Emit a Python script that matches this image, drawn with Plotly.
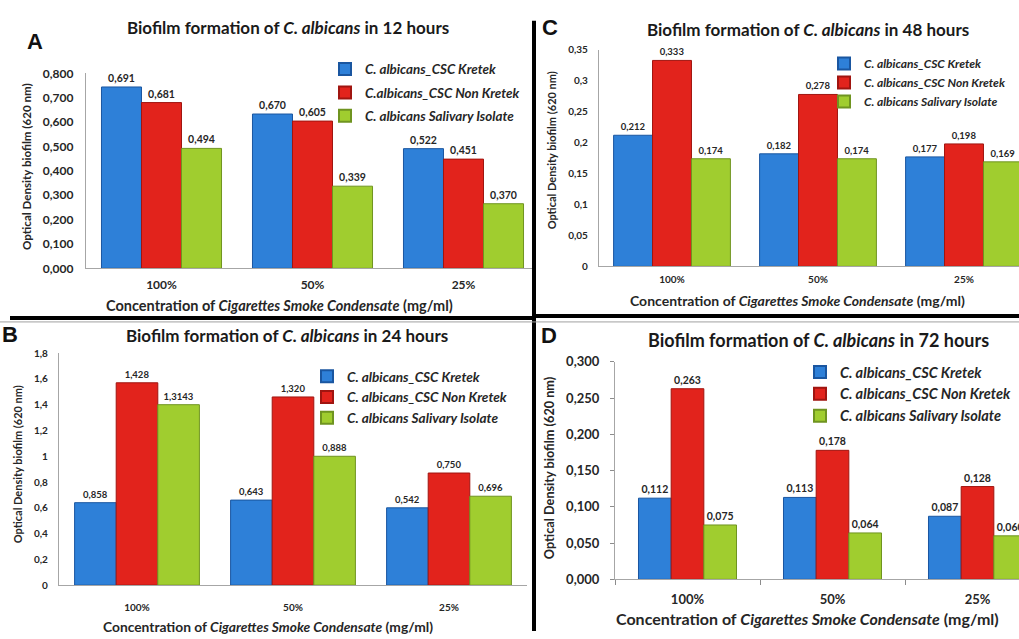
import plotly.graph_objects as go

W, H = 1019, 639

categories = ["100%", "50%", "25%"]

# ---- Panel A (12 hours): bar heights, label texts as printed
A_kretek = [0.744, 0.633, 0.491]
A_nonkretek = [0.680, 0.604, 0.448]
A_salivary = [0.492, 0.337, 0.265]
A_lbl_kretek = ["0,691", "0,670", "0,522"]
A_lbl_nonkretek = ["0,681", "0,605", "0,451"]
A_lbl_salivary = ["0,494", "0,339", "0,370"]

# ---- Panel B (24 hours)
B_kretek = [0.64, 0.66, 0.60]
B_nonkretek = [1.57, 1.46, 0.87]
B_salivary = [1.40, 1.00, 0.69]
B_lbl_kretek = ["0,858", "0,643", "0,542"]
B_lbl_nonkretek = ["1,428", "1,320", "0,750"]
B_lbl_salivary = ["1,3143", "0,888", "0,696"]

# ---- Panel C (48 hours)
C_kretek = [0.212, 0.182, 0.177]
C_nonkretek = [0.333, 0.278, 0.198]
C_salivary = [0.174, 0.174, 0.169]
C_lbl_kretek = ["0,212", "0,182", "0,177"]
C_lbl_nonkretek = ["0,333", "0,278", "0,198"]
C_lbl_salivary = ["0,174", "0,174", "0,169"]

# ---- Panel D (72 hours)
D_kretek = [0.112, 0.113, 0.087]
D_nonkretek = [0.263, 0.178, 0.128]
D_salivary = [0.075, 0.064, 0.060]
D_lbl_kretek = ["0,112", "0,113", "0,087"]
D_lbl_nonkretek = ["0,263", "0,178", "0,128"]
D_lbl_salivary = ["0,075", "0,064", "0,060"]

names_A = ["C. albicans_CSC Kretek", "C.albicans_CSC Non Kretek", "C. albicans Salivary Isolate"]
names = ["C. albicans_CSC Kretek", "C. albicans_CSC Non Kretek", "C. albicans Salivary Isolate"]

colors = ["#2E80D8", "#E2231C", "#A0CD2F"]
edges = ["#1A56A0", "#A01510", "#6F9420"]

FONT = "Lato, 'Open Sans', sans-serif"
TXT = "#262626"


def PX(p):
    return p / W


def PY(p):
    return 1 - p / H


panels = [
    dict(key="", letter="A", hours="12",
         vals=[A_kretek, A_nonkretek, A_salivary],
         lbls=[A_lbl_kretek, A_lbl_nonkretek, A_lbl_salivary], names=names_A,
         x0=86, x1=534, pxcat=151, y0=267, y1=67, ymax=0.8, dtick=0.1, fmt=".3f",
         gw=0.795, lblsize=10.5, tick=12, ystand=9, xstand=5,
         title=(288, 20, 17), let=(35, 34), ytitle=(27, 163, 11.6), xtitle=(279, 305, 14.5),
         leg=(365, 47, 13.4, 3)),
    dict(key="2", letter="C", hours="48",
         vals=[C_kretek, C_nonkretek, C_salivary],
         lbls=[C_lbl_kretek, C_lbl_nonkretek, C_lbl_salivary], names=names,
         x0=599, x1=1019, pxcat=146, y0=265, y1=43, ymax=0.35, dtick=0.05, fmt="",
         gw=0.80, lblsize=9.5, tick=10, ystand=8, xstand=4,
         title=(808, 22, 17), let=(550, 20), ytitle=(551, 146, 11), xtitle=(797, 300, 14),
         leg=(864, 42, 12, 0)),
    dict(key="3", letter="B", hours="24",
         vals=[B_kretek, B_nonkretek, B_salivary],
         lbls=[B_lbl_kretek, B_lbl_nonkretek, B_lbl_salivary], names=names,
         x0=59, x1=527, pxcat=156, y0=592, y1=354, ymax=1.8, dtick=0.2, fmt="",
         gw=0.80, lblsize=9.5, tick=10, ystand=8, xstand=13,
         title=(287, 336, 17), let=(10, 335), ytitle=(17, 468, 11), xtitle=(268, 634, 13.8),
         leg=(347, 362, 13.6, 0)),
    dict(key="4", letter="D", hours="72",
         vals=[D_kretek, D_nonkretek, D_salivary],
         lbls=[D_lbl_kretek, D_lbl_nonkretek, D_lbl_salivary], names=names,
         x0=615, x1=1019, pxcat=145, y0=586, y1=363, ymax=0.3, dtick=0.05, fmt=".3f",
         gw=0.676, lblsize=10.5, tick=13, ystand=8, xstand=8,
         title=(818, 341, 18), let=(549, 336), ytitle=(549, 472, 12.7), xtitle=(807, 626, 16),
         leg=(840, 357, 14.5, 0)),
]

fig = go.Figure()
annotations = []
layout = dict()

for p in panels:
    k = p["key"]
    legname = "legend" + k
    bw = p["gw"] / 3
    for i in range(3):
        fig.add_trace(go.Bar(
            x=categories, y=p["vals"][i], name=p["names"][i],
            text=p["lbls"][i], textposition="outside", constraintext="none",
            cliponaxis=False,
            textfont=dict(family=FONT, size=p["lblsize"], color=TXT, weight="bold"),
            marker=dict(color=colors[i], line=dict(color=edges[i], width=1)),
            width=bw, offset=-p["gw"] / 2 + i * bw,
            xaxis="x" + k, yaxis="y" + k, legend=legname,
            legendgroup=p["letter"] + str(i),
        ))
    rng_hi = -0.5 + (p["x1"] - p["x0"]) / p["pxcat"]
    is_d = p["letter"] == "D"
    layout["xaxis" + k] = dict(
        domain=[PX(p["x0"]), PX(p["x1"])], anchor="y" + k, range=[-0.5, rng_hi],
        type="category", showline=True, linecolor="#A6A6A6", linewidth=1.2,
        showgrid=False, zeroline=False, fixedrange=True,
        ticks="outside" if is_d else "", tickson="boundaries" if is_d else "labels",
        ticklen=5, tickcolor="#8C8C8C",
        tickfont=dict(family=FONT, size=p["tick"], color=TXT, weight="bold"),
        ticklabelstandoff=p["xstand"],
    )
    yax = dict(
        domain=[PY(p["y0"]), PY(p["y1"])], anchor="x" + k, range=[0, p["ymax"]],
        dtick=p["dtick"], tick0=0, showline=True, linecolor="#A6A6A6", linewidth=1.2,
        showgrid=False, zeroline=False, fixedrange=True,
        ticks="outside" if is_d else "", ticklen=4, tickcolor="#8C8C8C",
        tickfont=dict(family=FONT, size=p["tick"], color=TXT, weight="bold"),
        ticklabelstandoff=p["ystand"],
    )
    if p["fmt"]:
        yax["tickformat"] = p["fmt"]
    layout["yaxis" + k] = yax

    lx, ltop, lfs, lgap = p["leg"]
    layout[legname] = dict(
        x=PX(lx - 40), y=PY(ltop), xanchor="left", yanchor="top",
        bgcolor="rgba(0,0,0,0)", traceorder="grouped", tracegroupgap=lgap,
        font=dict(family=FONT, size=lfs, color=TXT, weight="bold", style="italic"),
        itemsizing="constant", itemwidth=30,
    )

    tx, ty, tfs = p["title"]
    annotations.append(dict(
        x=PX(tx), y=PY(ty), xref="paper", yref="paper", showarrow=False,
        text=f"Biofilm formation of <i>C. albicans</i> in {p['hours']} hours",
        font=dict(family=FONT, size=tfs, color="#1A1A1A", weight="bold"),
        xanchor="center", yanchor="middle"))
    lx2, ly2 = p["let"]
    annotations.append(dict(
        x=PX(lx2), y=PY(ly2), xref="paper", yref="paper", showarrow=False,
        text=p["letter"], font=dict(family="Liberation Sans, Arial", size=22, color="#111111", weight="bold"),
        xanchor="center", yanchor="middle"))
    yx, yy, yfs = p["ytitle"]
    annotations.append(dict(
        x=PX(yx), y=PY(yy), xref="paper", yref="paper", showarrow=False,
        text="Optical Density biofilm (620 nm)", textangle=-90,
        font=dict(family=FONT, size=yfs, color=TXT, weight="bold"),
        xanchor="center", yanchor="middle"))
    xx, xy, xfs = p["xtitle"]
    annotations.append(dict(
        x=PX(xx), y=PY(xy), xref="paper", yref="paper", showarrow=False,
        text="Concentration of <i>Cigarettes Smoke Condensate</i> (mg/ml)",
        font=dict(family=FONT, size=xfs, color=TXT, weight="bold"),
        xanchor="center", yanchor="middle"))

shapes = [
    dict(type="line", xref="paper", yref="paper", x0=PX(534), x1=PX(534), y0=PY(13), y1=PY(639),
         line=dict(color="black", width=4)),
    dict(type="line", xref="paper", yref="paper", x0=PX(10), x1=PX(534), y0=PY(318), y1=PY(318),
         line=dict(color="black", width=4)),
    dict(type="line", xref="paper", yref="paper", x0=PX(534), x1=PX(1019), y0=PY(316), y1=PY(316),
         line=dict(color="black", width=4)),
    dict(type="line", xref="paper", yref="paper", x0=PX(0), x1=PX(1019), y0=PY(322), y1=PY(322),
         line=dict(color="#A0A0A0", width=1)),
]

fig.update_layout(
    width=W, height=H, autosize=False,
    margin=dict(l=0, r=0, t=0, b=0),
    paper_bgcolor="white", plot_bgcolor="white",
    separators=",.", barmode="overlay",
    showlegend=True, annotations=annotations, shapes=shapes,
    font=dict(family=FONT, color=TXT),
    **layout,
)

fig.write_html("out.html", config={"displayModeBar": False},
               post_script="document.body.style.margin='0px';")
